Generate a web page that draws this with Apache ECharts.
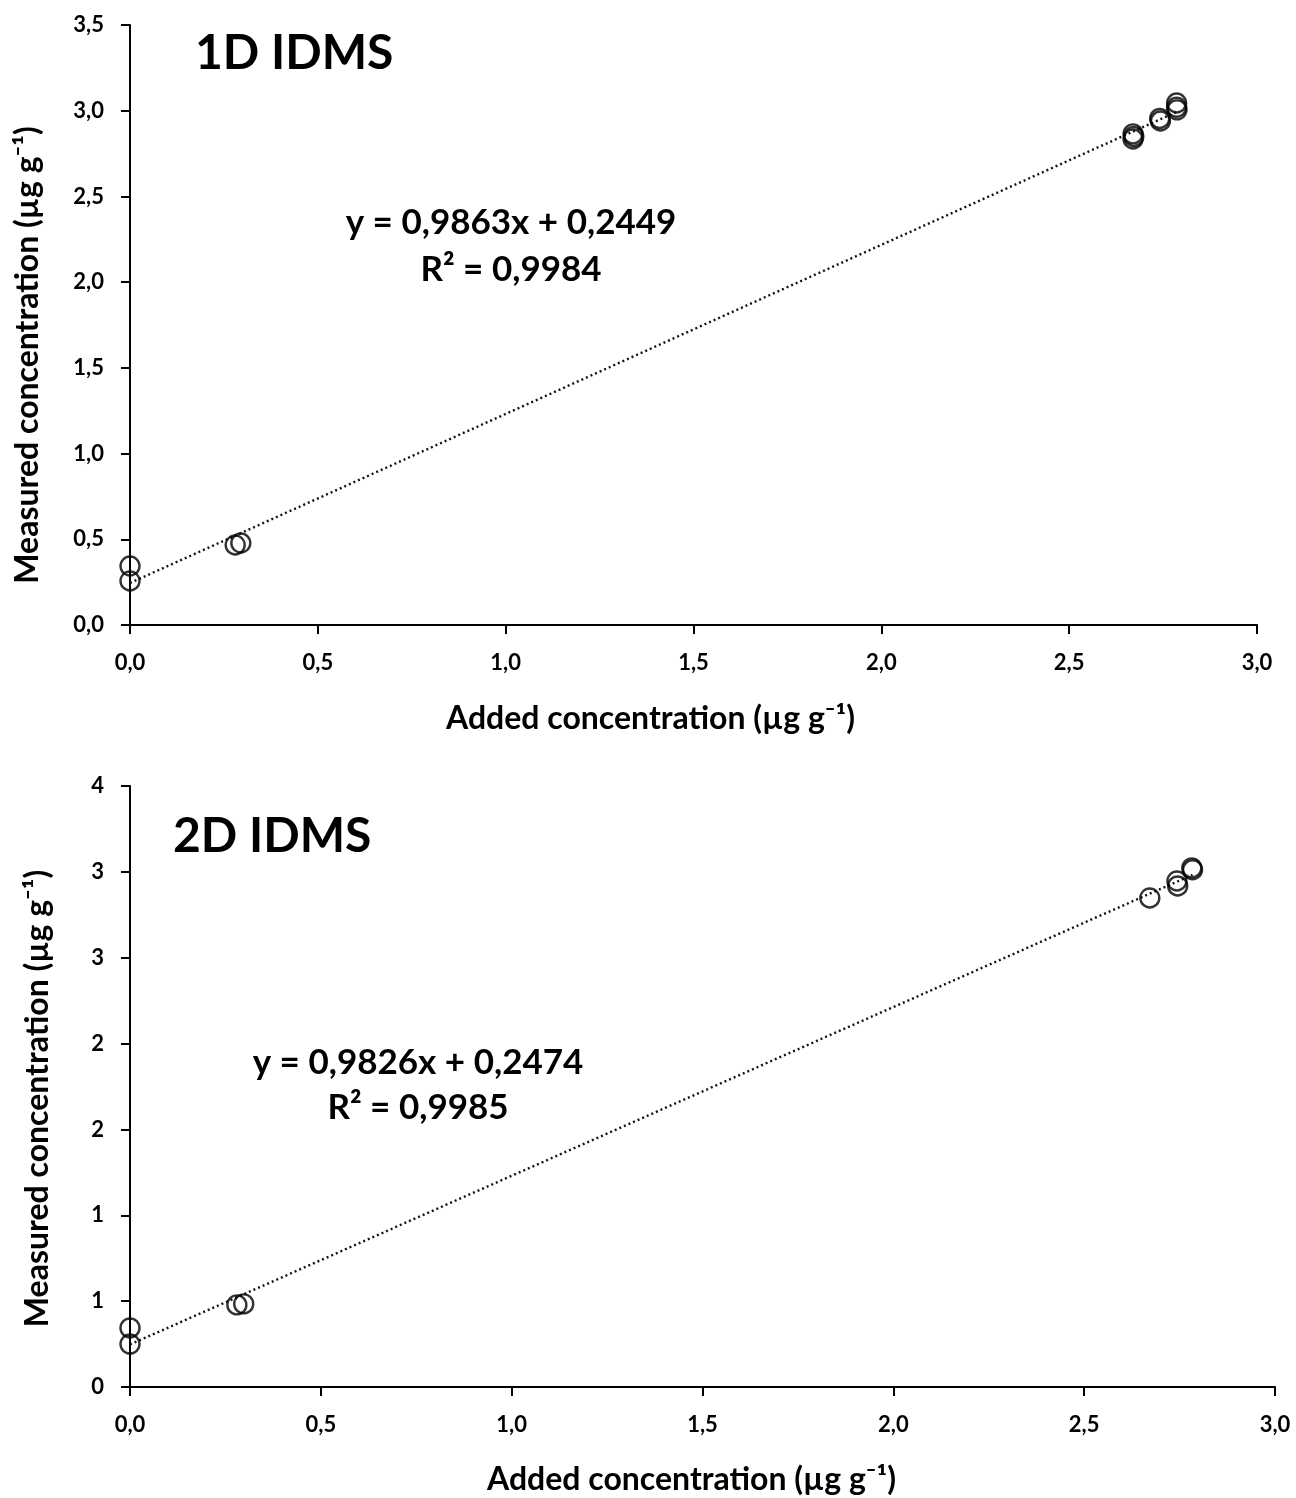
<!DOCTYPE html>
<html><head><meta charset="utf-8">
<script src="https://cdn.jsdelivr.net/npm/echarts@6/dist/echarts.min.js"></script>
<style>html,body{margin:0;padding:0;background:#fff}#c{width:1296px;height:1498px}</style>
</head><body><div id="c"></div>
<script>
// Panel 1: 1D IDMS
const added1D    = [0, 0, 0.28, 0.295, 2.670, 2.670, 2.672, 2.741, 2.743, 2.786, 2.787, 2.786];
const measured1D = [0.344, 0.257, 0.467, 0.478, 2.865, 2.835, 2.850, 2.955, 2.940, 3.045, 3.005, 3.020];
const fit1D = {slope: 0.9863, intercept: 0.2449, r2: '0,9984'};
// Panel 2: 2D IDMS
const added2D    = [0, 0, 0.280, 0.298, 2.672, 2.743, 2.745, 2.782, 2.784];
const measured2D = [0.344, 0.250, 0.478, 0.484, 2.848, 2.947, 2.918, 3.023, 3.012];
const fit2D = {slope: 0.9826, intercept: 0.2474, r2: '0,9985'};
const xTicks = [0, 0.5, 1.0, 1.5, 2.0, 2.5, 3.0];

const FONT = 'Lato';
const pts = (xs, ys) => xs.map((x, i) => [x, ys[i]]);
const fitLine = (xs, f) => { const mx = Math.max(...xs); return [[0, f.intercept], [mx, f.slope * mx + f.intercept]]; };
const comma1 = v => v.toFixed(1).replace('.', ',');

const axisLine = {show: true, lineStyle: {color: '#000', width: 2}};
const axisTick = {show: true, inside: false, length: 9, lineStyle: {color: '#000', width: 2}};
const lbl = {color: '#000', fontFamily: FONT, fontWeight: 'bold', fontSize: 22};
const nameStyle = pad => ({color: '#000', fontFamily: FONT, fontWeight: 'bold', fontSize: 32, padding: pad});

function xAxis(gi, gap, pad) {
  return {type: 'value', gridIndex: gi, min: 0, max: 3, interval: 0.5,
    axisLine, axisTick, splitLine: {show: false},
    axisLabel: Object.assign({margin: 27, formatter: comma1}, lbl),
    name: 'Added concentration (µg g\u207B\u00B9)', nameLocation: 'middle', nameGap: gap, nameTextStyle: nameStyle(pad)};
}
function yAxis(gi, fmt, gap, pad) {
  return {type: 'value', gridIndex: gi, min: 0, max: 3.5, interval: 0.5,
    axisLine, axisTick, splitLine: {show: false},
    axisLabel: Object.assign({margin: 26, formatter: fmt}, lbl),
    name: 'Measured concentration (µg g\u207B\u00B9)', nameLocation: 'middle', nameGap: gap, nameTextStyle: nameStyle(pad)};
}
const scatterStyle = {symbol: 'circle', symbolSize: 19, itemStyle: {color: 'rgba(0,0,0,0)', borderColor: '#000', borderWidth: 2.4}};
const lineStyle = {color: '#111', width: 2.4, type: [2, 3]};

const texts = [
  {x: 195, y: 30, t: '1D IDMS', s: 48},
  {x: 173, y: 813, t: '2D IDMS', s: 48},
];
const eqs = [
  {cx: 511, y: 205, t: 'y = 0,9863x + 0,2449'},
  {cx: 511, y: 252, t: 'R\u00B2 = ' + fit1D.r2},
  {cx: 418, y: 1045, t: 'y = 0,9826x + 0,2474'},
  {cx: 418, y: 1090, t: 'R\u00B2 = ' + fit2D.r2},
];

const chart = echarts.init(document.getElementById('c'), null, {renderer: 'canvas'});
chart.setOption({
  backgroundColor: '#fff',
  animation: false,
  grid: [
    {left: 130, right: 39, top: 25, height: 600},
    {left: 130, right: 21, top: 786, height: 601}
  ],
  xAxis: [xAxis(0, 78, [0, 86, 0, 0]), xAxis(1, 77, [0, 22, 0, 0])],
  yAxis: [yAxis(0, comma1, 86, [0, 60, 0, 0]), yAxis(1, v => String(Math.round(v)), 76, [0, 24, 0, 0])],
  series: [
    Object.assign({type: 'scatter', xAxisIndex: 0, yAxisIndex: 0, data: pts(added1D, measured1D), z: 3}, scatterStyle),
    {type: 'line', xAxisIndex: 0, yAxisIndex: 0, data: fitLine(added1D, fit1D), showSymbol: false, symbol: 'none', lineStyle, z: 2},
    Object.assign({type: 'scatter', xAxisIndex: 1, yAxisIndex: 1, data: pts(added2D, measured2D), z: 3}, scatterStyle),
    {type: 'line', xAxisIndex: 1, yAxisIndex: 1, data: fitLine(added2D, fit2D), showSymbol: false, symbol: 'none', lineStyle, z: 2}
  ],
  graphic: [
    ...texts.map(o => ({type: 'text', left: o.x, top: o.y, style: {text: o.t, fontFamily: FONT, fontWeight: 'bold', fontSize: o.s, fill: '#000'}})),
    ...eqs.map(o => ({type: 'text', x: o.cx, y: o.y, style: {text: o.t, textAlign: 'center', fontFamily: FONT, fontWeight: 'bold', fontSize: 35, fill: '#000'}}))
  ]
});
</script></body></html>
